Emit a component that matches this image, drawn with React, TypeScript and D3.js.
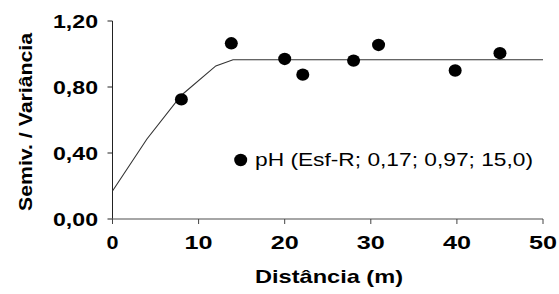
import React from 'react';
import * as d3 from 'd3';

// lag distance (m) and semivariance / variance
const distances = [8, 13.8, 20, 22.1, 28, 30.9, 39.8, 45];
const semiv = [0.725, 1.065, 0.97, 0.875, 0.96, 1.055, 0.9, 1.005];

// fitted spherical model
const modelX = [0, 4, 8, 12, 14, 50];
const modelY = [0.17, 0.485, 0.75, 0.928, 0.965, 0.965];

const xTicks = [0, 10, 20, 30, 40, 50];
const yTicks = [0, 0.4, 0.8, 1.2];
const legendLabel = 'pH (Esf-R; 0,17; 0,97; 15,0)';

const W = 559;
const H = 294;

export default function App() {
  const x = d3.scaleLinear().domain([0, 50]).range([112.5, 543]);
  const y = d3.scaleLinear().domain([0, 1.2]).range([219, 21]);

  const model = d3
    .line<number>()
    .x((d, i) => x(modelX[i]))
    .y((d) => y(d));

  const fmt = (v: number) => v.toFixed(2).replace('.', ',');

  return (
    <div style={{ position: 'absolute', left: 0, top: 0 }}>
      <svg width={W} height={H} style={{ display: 'block' }} fontFamily="'Liberation Sans', Arial, sans-serif">
        <rect width={W} height={H} fill="#fff" />

        {/* y axis */}
        <line x1={x(0)} x2={x(0)} y1={y(1.2)} y2={y(0)} stroke="#222" strokeWidth={1} />
        {yTicks.map((t) => (
          <g key={t}>
            <line x1={x(0) - 5} x2={x(0)} y1={y(t)} y2={y(t)} stroke="#222" />
            <text
              x={98}
              y={y(t) + 6.5}
              textAnchor="end"
              fontSize={18.5}
              fontWeight="bold"
              textLength={45}
              lengthAdjust="spacingAndGlyphs"
            >
              {fmt(t)}
            </text>
          </g>
        ))}

        {/* x axis */}
        <line x1={x(0)} x2={x(50)} y1={y(0)} y2={y(0)} stroke="#888" strokeWidth={1.5} />
        {xTicks.map((t) => (
          <g key={t}>
            <line x1={x(t)} x2={x(t)} y1={y(0)} y2={y(0) + 5} stroke="#444" />
            <text
              x={x(t)}
              y={248.5}
              textAnchor="middle"
              fontSize={18.5}
              fontWeight="bold"
              textLength={t === 0 ? 12 : 28}
              lengthAdjust="spacingAndGlyphs"
            >
              {t}
            </text>
          </g>
        ))}

        <text
          x={329}
          y={283}
          textAnchor="middle"
          fontSize={18.5}
          fontWeight="bold"
          textLength={148}
          lengthAdjust="spacingAndGlyphs"
        >
          Distância (m)
        </text>
        <text
          transform={`translate(32,122) rotate(-90)`}
          textAnchor="middle"
          fontSize={18.5}
          fontWeight="bold"
          textLength={178}
          lengthAdjust="spacingAndGlyphs"
        >
          Semiv. / Variância
        </text>

        {/* fitted model */}
        <path d={model(modelY) || ''} fill="none" stroke="#333" strokeWidth={1.1} />

        {/* experimental semivariances */}
        {distances.map((d, i) => (
          <ellipse key={i} cx={x(d)} cy={y(semiv[i])} rx={6.5} ry={6.2} fill="#000" />
        ))}

        {/* legend */}
        <ellipse cx={240.7} cy={160} rx={6.5} ry={6.2} fill="#000" />
        <text x={255} y={166} fontSize={17.5} textLength={278} lengthAdjust="spacingAndGlyphs">
          {legendLabel}
        </text>
      </svg>
    </div>
  );
}
